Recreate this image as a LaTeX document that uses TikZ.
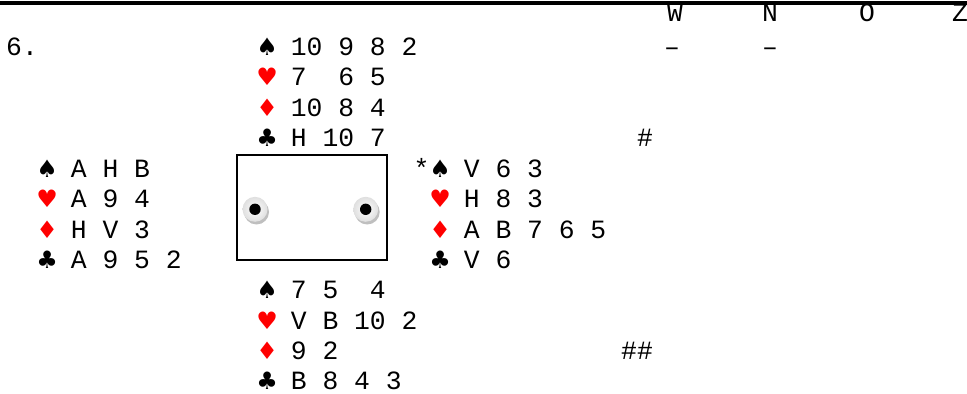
\documentclass[tikz,border=0pt]{standalone}
\usepackage{fontspec}
\setmainfont{Liberation Mono}
\newfontfamily\suitfont{DejaVu Sans}
\definecolor{suitred}{RGB}{255,0,0}
\newcommand\suit[2]{\makebox[0.6em]{\fontsize{20.5}{24}\suitfont\color{#1}#2}}
\newcommand\spd{\suit{black}{♠}}
\newcommand\hrt{\suit{suitred}{♥}}
\newcommand\dmd{\suit{suitred}{♦}}
\newcommand\clb{\suit{black}{♣}}
\begin{document}
\begin{tikzpicture}[x=0.3mm,y=-0.3mm,
    every node/.style={inner sep=0pt,font=\fontsize{22.5}{27}\selectfont},
    hand/.style={anchor=base west}]
    \useasboundingbox (0,0) rectangle (967,394);
	\draw[line width=1.1mm] (0,2.8) -- (967,2.8) ;
	% bidding header
        \node (bw)[anchor=base] at (675,22) {W} ;
        \node (bn)[anchor=base] at (770,22) {N} ;
        \node (bo)[anchor=base] at (867,22) {O} ;
        \node (bz)[anchor=base] at (960,22) {Z} ;
        \node (pw)[anchor=base] at (672,56) {–} ;
        \node (pn)[anchor=base] at (770,56) {–} ;
		\node (nr)[anchor=base west] at (6,56) {6.} ;
	% north
		\node (ns)[hand] at (259,56) {\spd{} 10 9 8 2} ;
		\node (nh)[hand] at (259,86) {\hrt{} 7\ \ 6 5} ;
		\node (nd)[hand] at (259,117) {\dmd{} 10 8 4} ;
		\node (nc)[hand] at (259,147) {\clb{} H 10 7} ;
	% west
		\node (ws)[hand] at (39,177) {\spd{} A H B} ;
		\node (wh)[hand] at (39,207) {\hrt{} A 9 4} ;
		\node (wd)[hand] at (39,238) {\dmd{} H V 3} ;
		\node (wc)[hand] at (39,268) {\clb{} A 9 5 2} ;
	% east
		\node (es)[hand] at (432,177) {\spd{} V 6 3} ;
		\node (st)[anchor=base east,xshift=-0.7mm] at (es.base west) {*} ;
		\node (eh)[hand] at (432,207) {\hrt{} H 8 3} ;
		\node (ed)[hand] at (432,238) {\dmd{} A B 7 6 5} ;
		\node (ec)[hand] at (432,268) {\clb{} V 6} ;
	% south
		\node (ss)[hand] at (259,298) {\spd{} 7 5\ \ 4} ;
		\node (sh)[hand] at (259,329) {\hrt{} V B 10 2} ;
		\node (sd)[hand] at (259,359) {\dmd{} 9 2} ;
		\node (sc)[hand] at (259,389) {\clb{} B 8 4 3} ;
        \node (h1)[anchor=base] at (645,147) {\#} ;
        \node (h2)[anchor=base] at (637,359) {\#\#} ;
	% table
	\draw[line width=0.6mm] (237,155) rectangle (387,260) ;
	\foreach \bx in {255,365.7} {
		\fill[gray!50] (\bx+1.5,212) circle (12.5) ;
		\shade[inner color=white,outer color=gray!25] (\bx,209.3) circle (12.5) ;
		\fill[black] (\bx,209.3) circle (5.7) ;
	}
\end{tikzpicture}
\end{document}
